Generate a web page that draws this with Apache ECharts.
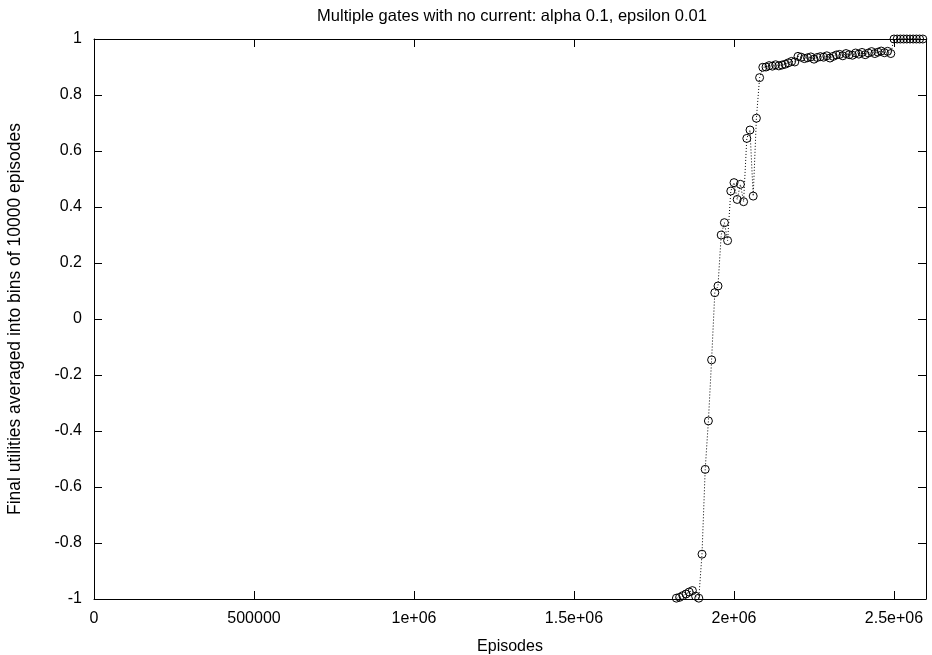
<!DOCTYPE html>
<html>
<head>
<meta charset="utf-8">
<script src="https://cdn.jsdelivr.net/npm/echarts@6/dist/echarts.min.js"></script>
<style>
html,body{margin:0;padding:0;background:#fff;}
#chart{width:932px;height:655px;}
</style>
</head>
<body>
<div id="chart"></div>
<script>
const titleText = 'Multiple gates with no current: alpha 0.1, epsilon 0.01';
const xAxisName = 'Episodes';
const yAxisName = 'Final utilities averaged into bins of 10000 episodes';

const episodes = [
  1820000, 1830000, 1840000, 1850000, 1860000, 1870000, 1880000, 1890000,
  1900000, 1910000, 1920000, 1930000, 1940000, 1950000, 1960000, 1970000,
  1980000, 1990000, 2000000, 2010000, 2020000, 2030000, 2040000, 2050000, 2060000,
  2070000, 2080000, 2090000,
  2100000, 2110000, 2120000, 2130000, 2140000, 2150000, 2160000, 2170000,
  2180000, 2190000, 2200000, 2210000, 2220000, 2230000, 2240000, 2250000, 2260000,
  2270000, 2280000, 2290000, 2300000, 2310000, 2320000, 2330000, 2340000, 2350000,
  2360000, 2370000, 2380000, 2390000, 2400000, 2410000, 2420000, 2430000, 2440000,
  2450000, 2460000, 2470000, 2480000, 2490000,
  2500000, 2510000, 2520000, 2530000, 2540000, 2550000, 2560000, 2570000, 2580000, 2590000
];

const utilities = [
  -0.997, -0.994, -0.988, -0.982, -0.975, -0.970, -0.990, -0.997,
  -0.840, -0.537, -0.364, -0.146, 0.094, 0.118, 0.300, 0.344,
  0.280, 0.457, 0.487, 0.427, 0.481, 0.419, 0.645, 0.675, 0.439,
  0.717, 0.862, 0.899,
  0.900, 0.905, 0.903, 0.908, 0.904, 0.907, 0.910, 0.915,
  0.920, 0.918, 0.938, 0.935, 0.930, 0.933, 0.936, 0.928, 0.934,
  0.937, 0.935, 0.940, 0.932, 0.938, 0.943, 0.945, 0.940, 0.948,
  0.944, 0.942, 0.950, 0.946, 0.952, 0.944, 0.950, 0.955, 0.948,
  0.953, 0.957, 0.951, 0.956, 0.948,
  1.0, 1.0, 1.0, 1.0, 1.0, 1.0, 1.0, 1.0, 1.0, 1.0
];

const xTickLabels = {0: '0', 500000: '500000', 1000000: '1e+06', 1500000: '1.5e+06', 2000000: '2e+06', 2500000: '2.5e+06'};
const yTickLabels = {'-1': '-1', '-0.8': '-0.8', '-0.6': '-0.6', '-0.4': '-0.4', '-0.2': '-0.2', '0': '0', '0.2': '0.2', '0.4': '0.4', '0.6': '0.6', '0.8': '0.8', '1': '1'};

const FONT = 'Liberation Sans, Arial, sans-serif';
const FS = 16;

const chart = echarts.init(document.getElementById('chart'), null, {renderer: 'canvas'});

const seriesData = episodes.map((x, i) => [x, utilities[i]]);

function yFmt(v) {
  const k = String(Math.round(v * 10) / 10);
  return yTickLabels[k] !== undefined ? yTickLabels[k] : k;
}

const commonX = {
  type: 'value', min: 0, max: 2600000, interval: 500000,
  splitLine: {show: false},
  axisLine: {show: true, onZero: false, lineStyle: {color: '#000', width: 1}},
  axisTick: {show: true, inside: true, length: 8, lineStyle: {color: '#000', width: 1}}
};
const commonY = {
  type: 'value', min: -1, max: 1, interval: 0.2,
  splitLine: {show: false},
  axisLine: {show: true, onZero: false, lineStyle: {color: '#000', width: 1}},
  axisTick: {show: true, inside: true, length: 8, lineStyle: {color: '#000', width: 1}}
};

chart.setOption({
  animation: false,
  backgroundColor: '#fff',
  title: {
    text: titleText,
    left: 507, top: 3, textAlign: 'center',
    textStyle: {fontFamily: FONT, fontSize: 16.5, fontWeight: 'normal', color: '#000'}
  },
  grid: {left: 94, right: 6, top: 39, bottom: 56, containLabel: false, outerBoundsMode: 'none'},
  xAxis: [
    Object.assign({}, commonX, {
      position: 'bottom',
      name: xAxisName, nameLocation: 'middle', nameGap: 40,
      nameTextStyle: {fontFamily: FONT, fontSize: FS, color: '#000'},
      axisLabel: {
        show: true, margin: 12, showMaxLabel: false,
        fontFamily: FONT, fontSize: FS, color: '#000',
        formatter: v => (xTickLabels[v] !== undefined ? xTickLabels[v] : '')
      }
    }),
    Object.assign({}, commonX, {position: 'top', axisLabel: {show: false}})
  ],
  yAxis: [
    Object.assign({}, commonY, {
      position: 'left',
      name: yAxisName, nameLocation: 'middle', nameGap: 70, nameRotate: 90,
      nameTextStyle: {fontFamily: FONT, fontSize: 17.5, color: '#000'},
      axisLabel: {
        show: true, margin: 12,
        fontFamily: FONT, fontSize: FS, color: '#000',
        formatter: yFmt
      }
    }),
    Object.assign({}, commonY, {position: 'right', axisLabel: {show: false}})
  ],
  series: [{
    type: 'line',
    xAxisIndex: 0, yAxisIndex: 0,
    data: seriesData,
    symbol: 'circle',
    symbolSize: 8,
    showSymbol: true,
    itemStyle: {color: 'rgba(0,0,0,0)', borderColor: '#000', borderWidth: 1},
    lineStyle: {color: '#000', width: 1, type: [1, 2]},
    emphasis: {disabled: true},
    silent: true
  }]
});
</script>
</body>
</html>
